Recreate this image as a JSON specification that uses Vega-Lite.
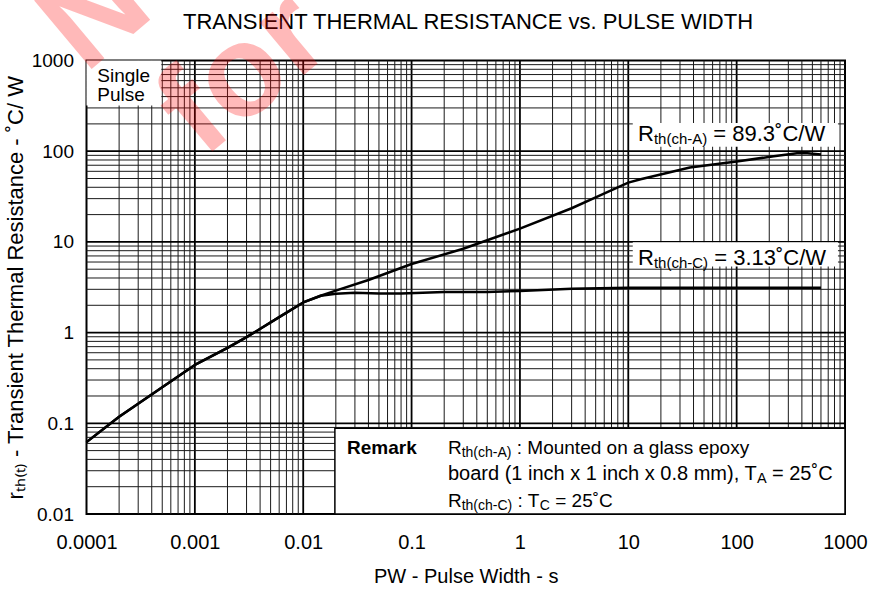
{
  "$schema": "https://vega.github.io/schema/vega-lite/v6.json",
  "width": 758.5,
  "height": 453.5,
  "autosize": "none",
  "padding": {"left": 86.5, "top": 60.5, "right": 30, "bottom": 78},
  "background": "white",
  "config": {
    "view": {"stroke": "black", "strokeWidth": 2},
    "font": "Liberation Sans",
    "axis": {"grid": false, "ticks": false, "domain": false, "labelColor": "black", "titleColor": "black", "labelFont": "Liberation Sans", "titleFont": "Liberation Sans", "titleFontWeight": "normal"},
    "text": {"font": "Liberation Sans", "color": "black", "align": "left", "baseline": "alphabetic"}
  },
  "datasets": {
    "xminor": [
      {"x": 0.0002}, {"x": 0.0003}, {"x": 0.0004}, {"x": 0.0005}, {"x": 0.0006}, {"x": 0.0007}, {"x": 0.0008}, {"x": 0.0009},
      {"x": 0.002}, {"x": 0.003}, {"x": 0.004}, {"x": 0.005}, {"x": 0.006}, {"x": 0.007}, {"x": 0.008}, {"x": 0.009},
      {"x": 0.02}, {"x": 0.03}, {"x": 0.04}, {"x": 0.05}, {"x": 0.06}, {"x": 0.07}, {"x": 0.08}, {"x": 0.09},
      {"x": 0.2}, {"x": 0.3}, {"x": 0.4}, {"x": 0.5}, {"x": 0.6}, {"x": 0.7}, {"x": 0.8}, {"x": 0.9},
      {"x": 2}, {"x": 3}, {"x": 4}, {"x": 5}, {"x": 6}, {"x": 7}, {"x": 8}, {"x": 9},
      {"x": 20}, {"x": 30}, {"x": 40}, {"x": 50}, {"x": 60}, {"x": 70}, {"x": 80}, {"x": 90},
      {"x": 200}, {"x": 300}, {"x": 400}, {"x": 500}, {"x": 600}, {"x": 700}, {"x": 800}, {"x": 900}
    ],
    "xmajor": [{"x": 0.001}, {"x": 0.01}, {"x": 0.1}, {"x": 1}, {"x": 10}, {"x": 100}],
    "yminor": [
      {"y": 0.02}, {"y": 0.03}, {"y": 0.04}, {"y": 0.05}, {"y": 0.06}, {"y": 0.07}, {"y": 0.08}, {"y": 0.09},
      {"y": 0.2}, {"y": 0.3}, {"y": 0.4}, {"y": 0.5}, {"y": 0.6}, {"y": 0.7}, {"y": 0.8}, {"y": 0.9},
      {"y": 2}, {"y": 3}, {"y": 4}, {"y": 5}, {"y": 6}, {"y": 7}, {"y": 8}, {"y": 9},
      {"y": 20}, {"y": 30}, {"y": 40}, {"y": 50}, {"y": 60}, {"y": 70}, {"y": 80}, {"y": 90},
      {"y": 200}, {"y": 300}, {"y": 400}, {"y": 500}, {"y": 600}, {"y": 700}, {"y": 800}, {"y": 900}
    ],
    "ymajor": [{"y": 0.1}, {"y": 1}, {"y": 10}, {"y": 100}],
    "boxes": [
      {"x": 0.0001, "x2": 0.00049, "y": 320, "y2": 1000},
      {"x": 11, "x2": 861, "y": 112, "y2": 205},
      {"x": 11, "x2": 861, "y": 5.35, "y2": 9.9}
    ],
    "remarkbox": [{"x": 0.0196, "x2": 1000, "y": 0.01, "y2": 0.088}],
    "curves": [
      {"s": "ch-A", "x": 0.0001, "y": 0.062},
      {"s": "ch-A", "x": 0.0002, "y": 0.118},
      {"s": "ch-A", "x": 0.0005, "y": 0.25},
      {"s": "ch-A", "x": 0.001, "y": 0.44},
      {"s": "ch-A", "x": 0.002, "y": 0.68},
      {"s": "ch-A", "x": 0.003, "y": 0.89},
      {"s": "ch-A", "x": 0.006, "y": 1.48},
      {"s": "ch-A", "x": 0.01, "y": 2.15},
      {"s": "ch-A", "x": 0.0145, "y": 2.55},
      {"s": "ch-A", "x": 0.02, "y": 2.9},
      {"s": "ch-A", "x": 0.04, "y": 3.8},
      {"s": "ch-A", "x": 0.1, "y": 5.7},
      {"s": "ch-A", "x": 0.3, "y": 8.4},
      {"s": "ch-A", "x": 1, "y": 14},
      {"s": "ch-A", "x": 3, "y": 23.5},
      {"s": "ch-A", "x": 5, "y": 31},
      {"s": "ch-A", "x": 10, "y": 45},
      {"s": "ch-A", "x": 13, "y": 49},
      {"s": "ch-A", "x": 37, "y": 66},
      {"s": "ch-A", "x": 100, "y": 77},
      {"s": "ch-A", "x": 220, "y": 88},
      {"s": "ch-A", "x": 360, "y": 95},
      {"s": "ch-A", "x": 450, "y": 95},
      {"s": "ch-A", "x": 600, "y": 92},
      {"s": "ch-C", "x": 0.0001, "y": 0.062},
      {"s": "ch-C", "x": 0.0002, "y": 0.118},
      {"s": "ch-C", "x": 0.0005, "y": 0.25},
      {"s": "ch-C", "x": 0.001, "y": 0.44},
      {"s": "ch-C", "x": 0.002, "y": 0.68},
      {"s": "ch-C", "x": 0.003, "y": 0.89},
      {"s": "ch-C", "x": 0.006, "y": 1.48},
      {"s": "ch-C", "x": 0.01, "y": 2.15},
      {"s": "ch-C", "x": 0.0145, "y": 2.55},
      {"s": "ch-C", "x": 0.02, "y": 2.68},
      {"s": "ch-C", "x": 0.03, "y": 2.75},
      {"s": "ch-C", "x": 0.05, "y": 2.7},
      {"s": "ch-C", "x": 0.08, "y": 2.7},
      {"s": "ch-C", "x": 0.2, "y": 2.8},
      {"s": "ch-C", "x": 0.5, "y": 2.8},
      {"s": "ch-C", "x": 1, "y": 2.88},
      {"s": "ch-C", "x": 3, "y": 3.05},
      {"s": "ch-C", "x": 10, "y": 3.13},
      {"s": "ch-C", "x": 100, "y": 3.13},
      {"s": "ch-C", "x": 600, "y": 3.13}
    ],
    "notes": [
      {"id": "sp", "x": 0.0001258, "y": 586, "t": "Single"},
      {"id": "sp", "x": 0.0001258, "y": 361, "t": "Pulse"},
      {"id": "aR", "x": 12.3, "y": 128.6, "t": "R"},
      {"id": "aS", "x": 12.3, "y": 128.6, "t": "th(ch-A)"},
      {"id": "aT", "x": 12.3, "y": 128.6, "t": "= 89.3˚C/W"},
      {"id": "cR", "x": 12.3, "y": 5.53, "t": "R"},
      {"id": "cS", "x": 12.3, "y": 5.53, "t": "th(ch-C)"},
      {"id": "cT", "x": 12.3, "y": 5.53, "t": "= 3.13˚C/W"},
      {"id": "rem", "x": 0.02536, "y": 0.0459, "t": "Remark"},
      {"id": "l1a", "x": 0.2168, "y": 0.0459, "t": "R"},
      {"id": "l1b", "x": 0.2168, "y": 0.0459, "t": "th(ch-A)"},
      {"id": "l1c", "x": 0.2168, "y": 0.0459, "t": ": Mounted on a glass epoxy"},
      {"id": "l2a", "x": 0.2168, "y": 0.0237, "t": "board (1 inch x 1 inch x 0.8 mm), T"},
      {"id": "l2b", "x": 0.2168, "y": 0.0237, "t": "A"},
      {"id": "l2c", "x": 0.2168, "y": 0.0237, "t": "= 25˚C"},
      {"id": "l3a", "x": 0.2168, "y": 0.01195, "t": "R"},
      {"id": "l3b", "x": 0.2168, "y": 0.01195, "t": "th(ch-C)"},
      {"id": "l3c", "x": 0.2168, "y": 0.01195, "t": ": T"},
      {"id": "l3d", "x": 0.2168, "y": 0.01195, "t": "C"},
      {"id": "l3e", "x": 0.2168, "y": 0.01195, "t": "= 25˚C"}
    ],
    "heading": [
      {"x": 0.3317, "y": 2239, "t": "TRANSIENT THERMAL RESISTANCE vs. PULSE WIDTH"}
    ],
    "watermark": [
      {"x": 0.0000969, "y": 700, "t": "Not"},
      {"x": 0.001189, "y": 80.8, "t": "for"}
    ]
  },
  "layer": [
    {
      "data": {"name": "curves"},
      "mark": {"type": "line", "color": "black", "strokeWidth": 2.5, "strokeJoin": "round", "opacity": 0},
      "encoding": {
        "x": {"field": "x", "type": "quantitative", "scale": {"type": "log", "domain": [0.0001, 1000]},
          "axis": {"values": [0.0001, 0.001, 0.01, 0.1, 1, 10, 100, 1000],
            "labelExpr": "datum.value < 0.0005 ? '0.0001' : datum.value < 0.005 ? '0.001' : datum.value < 0.05 ? '0.01' : datum.value < 0.5 ? '0.1' : format(datum.value, 'd')",
            "labelFontSize": 20, "labelPadding": 18, "labelFlush": false, "labelOverlap": false,
            "title": "PW - Pulse Width - s", "titleFontSize": 20, "titlePadding": 14}},
        "y": {"field": "y", "type": "quantitative", "scale": {"type": "log", "domain": [0.01, 1000]},
          "axis": {"values": [0.01, 0.1, 1, 10, 100, 1000],
            "labelExpr": "datum.value < 0.05 ? '0.01' : datum.value < 0.5 ? '0.1' : format(datum.value, 'd')",
            "labelFontSize": 19, "labelPadding": 13, "labelFlush": false, "labelOverlap": false,
            "title": "rₜₕ₍ₜ₎ - Transient Thermal Resistance - ˚C/ W", "titleFontSize": 22, "titlePadding": 4}},
        "detail": {"field": "s"}
      }
    },
    {
      "data": {"name": "xminor"},
      "mark": {"type": "rule", "color": "#1a1a1a", "strokeWidth": 1},
      "encoding": {"x": {"field": "x", "type": "quantitative", "scale": {"type": "log", "domain": [0.0001, 1000]}}}
    },
    {
      "data": {"name": "xmajor"},
      "mark": {"type": "rule", "color": "black", "strokeWidth": 1.8},
      "encoding": {"x": {"field": "x", "type": "quantitative", "scale": {"type": "log", "domain": [0.0001, 1000]}}}
    },
    {
      "data": {"name": "yminor"},
      "mark": {"type": "rule", "color": "#1a1a1a", "strokeWidth": 1},
      "encoding": {"y": {"field": "y", "type": "quantitative", "scale": {"type": "log", "domain": [0.01, 1000]}}}
    },
    {
      "data": {"name": "ymajor"},
      "mark": {"type": "rule", "color": "black", "strokeWidth": 1.8},
      "encoding": {"y": {"field": "y", "type": "quantitative", "scale": {"type": "log", "domain": [0.01, 1000]}}}
    },
    {
      "data": {"name": "boxes"},
      "mark": {"type": "rect", "fill": "white"},
      "encoding": {
        "x": {"field": "x", "type": "quantitative", "scale": {"type": "log", "domain": [0.0001, 1000]}},
        "x2": {"field": "x2"},
        "y": {"field": "y", "type": "quantitative", "scale": {"type": "log", "domain": [0.01, 1000]}},
        "y2": {"field": "y2"}
      }
    },
    {
      "data": {"name": "remarkbox"},
      "mark": {"type": "rect", "fill": "white", "stroke": "black", "strokeWidth": 1.5},
      "encoding": {
        "x": {"field": "x", "type": "quantitative", "scale": {"type": "log", "domain": [0.0001, 1000]}},
        "x2": {"field": "x2"},
        "y": {"field": "y", "type": "quantitative", "scale": {"type": "log", "domain": [0.01, 1000]}},
        "y2": {"field": "y2"}
      }
    },
    {
      "data": {"name": "curves"},
      "mark": {"type": "line", "color": "black", "strokeWidth": 2.5, "strokeJoin": "round"},
      "encoding": {
        "x": {"field": "x", "type": "quantitative", "scale": {"type": "log", "domain": [0.0001, 1000]}},
        "y": {"field": "y", "type": "quantitative", "scale": {"type": "log", "domain": [0.01, 1000]}},
        "detail": {"field": "s"}
      }
    },
    {
      "data": {"name": "heading"},
      "mark": {"type": "text", "fontSize": 22, "align": "center"},
      "encoding": {
        "x": {"field": "x", "type": "quantitative", "scale": {"type": "log", "domain": [0.0001, 1000]}},
        "y": {"field": "y", "type": "quantitative", "scale": {"type": "log", "domain": [0.01, 1000]}},
        "text": {"field": "t"}
      }
    },
    {
      "data": {"name": "notes"},
      "transform": [{"filter": {"field": "id", "oneOf": ["sp", "l1a", "l3a"]}}],
      "mark": {"type": "text", "fontSize": 19},
      "encoding": {
        "x": {"field": "x", "type": "quantitative", "scale": {"type": "log", "domain": [0.0001, 1000]}},
        "y": {"field": "y", "type": "quantitative", "scale": {"type": "log", "domain": [0.01, 1000]}},
        "text": {"field": "t"}
      }
    },
    {
      "data": {"name": "notes"},
      "transform": [{"filter": {"field": "id", "equal": "l2a"}}],
      "mark": {"type": "text", "fontSize": 20},
      "encoding": {
        "x": {"field": "x", "type": "quantitative", "scale": {"type": "log", "domain": [0.0001, 1000]}},
        "y": {"field": "y", "type": "quantitative", "scale": {"type": "log", "domain": [0.01, 1000]}},
        "text": {"field": "t"}
      }
    },
    {
      "data": {"name": "notes"},
      "transform": [{"filter": {"field": "id", "equal": "rem"}}],
      "mark": {"type": "text", "fontSize": 19, "fontWeight": "bold"},
      "encoding": {
        "x": {"field": "x", "type": "quantitative", "scale": {"type": "log", "domain": [0.0001, 1000]}},
        "y": {"field": "y", "type": "quantitative", "scale": {"type": "log", "domain": [0.01, 1000]}},
        "text": {"field": "t"}
      }
    },
    {
      "data": {"name": "notes"},
      "transform": [{"filter": {"field": "id", "oneOf": ["l1b", "l3b"]}}],
      "mark": {"type": "text", "fontSize": 14, "dx": 13.7, "dy": 3},
      "encoding": {
        "x": {"field": "x", "type": "quantitative", "scale": {"type": "log", "domain": [0.0001, 1000]}},
        "y": {"field": "y", "type": "quantitative", "scale": {"type": "log", "domain": [0.01, 1000]}},
        "text": {"field": "t"}
      }
    },
    {
      "data": {"name": "notes"},
      "transform": [{"filter": {"field": "id", "equal": "l1c"}}],
      "mark": {"type": "text", "fontSize": 19, "dx": 68.8},
      "encoding": {
        "x": {"field": "x", "type": "quantitative", "scale": {"type": "log", "domain": [0.0001, 1000]}},
        "y": {"field": "y", "type": "quantitative", "scale": {"type": "log", "domain": [0.01, 1000]}},
        "text": {"field": "t"}
      }
    },
    {
      "data": {"name": "notes"},
      "transform": [{"filter": {"field": "id", "equal": "l2b"}}],
      "mark": {"type": "text", "fontSize": 14.5, "dx": 309, "dy": 3},
      "encoding": {
        "x": {"field": "x", "type": "quantitative", "scale": {"type": "log", "domain": [0.0001, 1000]}},
        "y": {"field": "y", "type": "quantitative", "scale": {"type": "log", "domain": [0.01, 1000]}},
        "text": {"field": "t"}
      }
    },
    {
      "data": {"name": "notes"},
      "transform": [{"filter": {"field": "id", "equal": "l2c"}}],
      "mark": {"type": "text", "fontSize": 20, "dx": 324},
      "encoding": {
        "x": {"field": "x", "type": "quantitative", "scale": {"type": "log", "domain": [0.0001, 1000]}},
        "y": {"field": "y", "type": "quantitative", "scale": {"type": "log", "domain": [0.01, 1000]}},
        "text": {"field": "t"}
      }
    },
    {
      "data": {"name": "notes"},
      "transform": [{"filter": {"field": "id", "equal": "l3c"}}],
      "mark": {"type": "text", "fontSize": 19, "dx": 69.6},
      "encoding": {
        "x": {"field": "x", "type": "quantitative", "scale": {"type": "log", "domain": [0.0001, 1000]}},
        "y": {"field": "y", "type": "quantitative", "scale": {"type": "log", "domain": [0.01, 1000]}},
        "text": {"field": "t"}
      }
    },
    {
      "data": {"name": "notes"},
      "transform": [{"filter": {"field": "id", "equal": "l3d"}}],
      "mark": {"type": "text", "fontSize": 14, "dx": 91.8, "dy": 3},
      "encoding": {
        "x": {"field": "x", "type": "quantitative", "scale": {"type": "log", "domain": [0.0001, 1000]}},
        "y": {"field": "y", "type": "quantitative", "scale": {"type": "log", "domain": [0.01, 1000]}},
        "text": {"field": "t"}
      }
    },
    {
      "data": {"name": "notes"},
      "transform": [{"filter": {"field": "id", "equal": "l3e"}}],
      "mark": {"type": "text", "fontSize": 19, "dx": 107.2},
      "encoding": {
        "x": {"field": "x", "type": "quantitative", "scale": {"type": "log", "domain": [0.0001, 1000]}},
        "y": {"field": "y", "type": "quantitative", "scale": {"type": "log", "domain": [0.01, 1000]}},
        "text": {"field": "t"}
      }
    },
    {
      "data": {"name": "notes"},
      "transform": [{"filter": {"field": "id", "oneOf": ["aR", "cR"]}}],
      "mark": {"type": "text", "fontSize": 22},
      "encoding": {
        "x": {"field": "x", "type": "quantitative", "scale": {"type": "log", "domain": [0.0001, 1000]}},
        "y": {"field": "y", "type": "quantitative", "scale": {"type": "log", "domain": [0.01, 1000]}},
        "text": {"field": "t"}
      }
    },
    {
      "data": {"name": "notes"},
      "transform": [{"filter": {"field": "id", "oneOf": ["aS", "cS"]}}],
      "mark": {"type": "text", "fontSize": 15, "dx": 15.9, "dy": 3},
      "encoding": {
        "x": {"field": "x", "type": "quantitative", "scale": {"type": "log", "domain": [0.0001, 1000]}},
        "y": {"field": "y", "type": "quantitative", "scale": {"type": "log", "domain": [0.01, 1000]}},
        "text": {"field": "t"}
      }
    },
    {
      "data": {"name": "notes"},
      "transform": [{"filter": {"field": "id", "equal": "aT"}}],
      "mark": {"type": "text", "fontSize": 22, "dx": 75.3},
      "encoding": {
        "x": {"field": "x", "type": "quantitative", "scale": {"type": "log", "domain": [0.0001, 1000]}},
        "y": {"field": "y", "type": "quantitative", "scale": {"type": "log", "domain": [0.01, 1000]}},
        "text": {"field": "t"}
      }
    },
    {
      "data": {"name": "notes"},
      "transform": [{"filter": {"field": "id", "equal": "cT"}}],
      "mark": {"type": "text", "fontSize": 22, "dx": 76.2},
      "encoding": {
        "x": {"field": "x", "type": "quantitative", "scale": {"type": "log", "domain": [0.0001, 1000]}},
        "y": {"field": "y", "type": "quantitative", "scale": {"type": "log", "domain": [0.01, 1000]}},
        "text": {"field": "t"}
      }
    },
    {
      "data": {"name": "watermark"},
      "mark": {"type": "text", "fontSize": 130, "fontWeight": "bold", "angle": -40, "color": "#ff0000", "opacity": 0.27},
      "encoding": {
        "x": {"field": "x", "type": "quantitative", "scale": {"type": "log", "domain": [0.0001, 1000]}},
        "y": {"field": "y", "type": "quantitative", "scale": {"type": "log", "domain": [0.01, 1000]}},
        "text": {"field": "t"}
      }
    }
  ]
}
